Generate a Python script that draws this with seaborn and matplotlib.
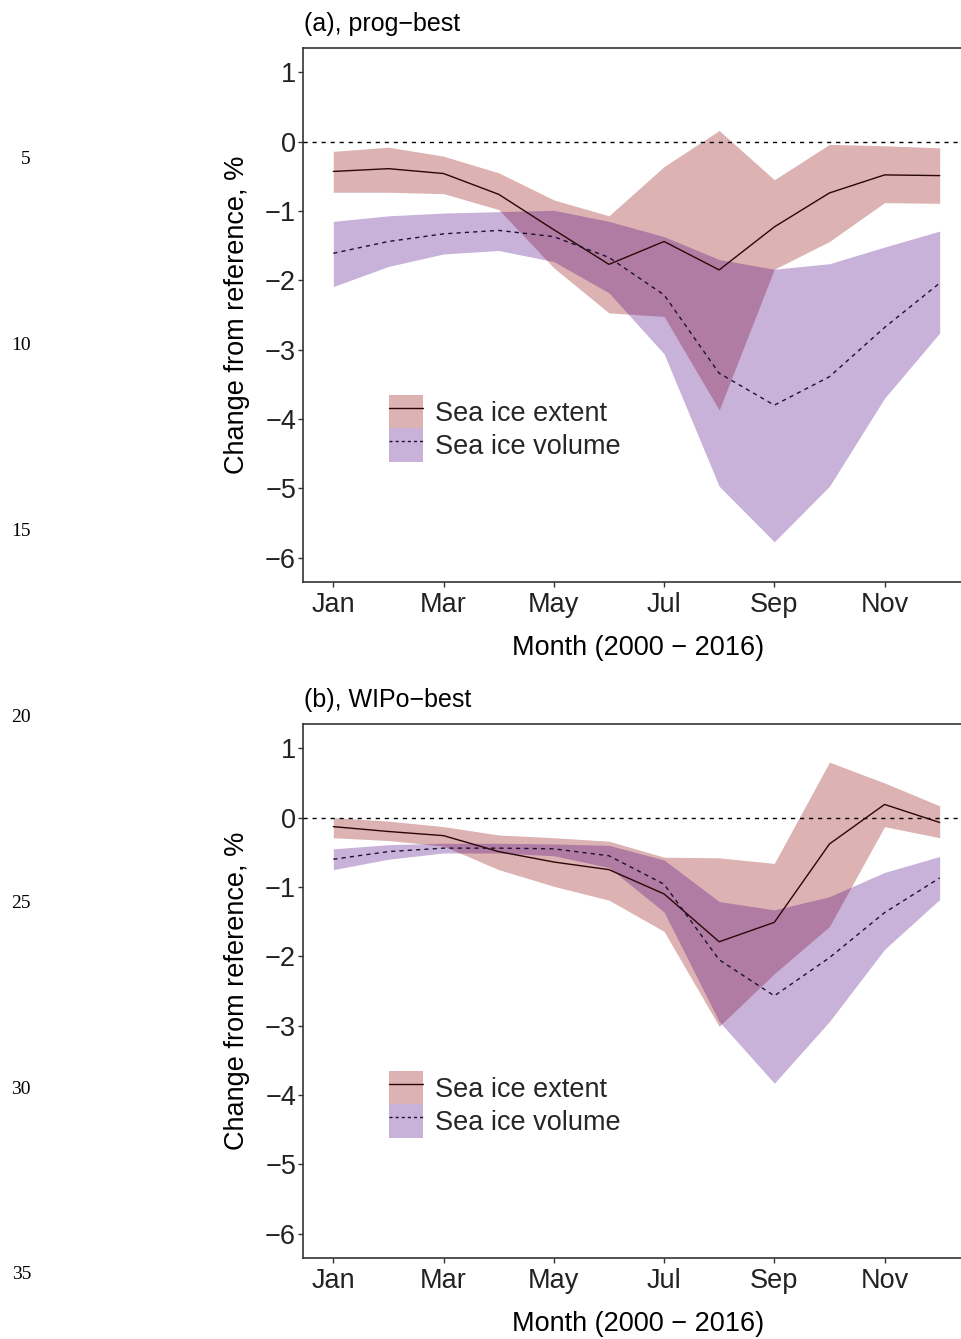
import numpy as np
import pandas as pd
import matplotlib
matplotlib.use("Agg")
import matplotlib.pyplot as plt
import seaborn as sns
from matplotlib.patches import Patch
from matplotlib.lines import Line2D

# ---- data -----------------------------------------------------------------
months = np.arange(1, 13)
tick_months = [1, 3, 5, 7, 9, 11]
tick_labels = ["Jan", "Mar", "May", "Jul", "Sep", "Nov"]
y_ticks = [1, 0, -1, -2, -3, -4, -5, -6]
line_numbers = [5, 10, 15, 20, 25, 30, 35]

# (a) prog-best
ext_mean_a = [-0.43, -0.39, -0.46, -0.76, -1.27, -1.77, -1.44, -1.85, -1.23, -0.74, -0.48, -0.49]
ext_hi_a = [-0.14, -0.08, -0.21, -0.45, -0.84, -1.07, -0.36, 0.16, -0.55, -0.04, -0.06, -0.09]
ext_lo_a = [-0.73, -0.73, -0.75, -0.98, -1.82, -2.47, -2.52, -3.87, -1.84, -1.44, -0.88, -0.89]
vol_mean_a = [-1.61, -1.44, -1.33, -1.28, -1.37, -1.67, -2.21, -3.34, -3.80, -3.39, -2.68, -2.04]
vol_hi_a = [-1.15, -1.07, -1.03, -1.01, -0.99, -1.15, -1.37, -1.70, -1.84, -1.76, -1.52, -1.29]
vol_lo_a = [-2.09, -1.80, -1.62, -1.57, -1.73, -2.18, -3.06, -4.97, -5.77, -4.97, -3.70, -2.76]

# (b) WIPo-best
ext_mean_b = [-0.13, -0.20, -0.26, -0.49, -0.64, -0.75, -1.10, -1.79, -1.51, -0.38, 0.19, -0.07]
ext_hi_b = [0.00, -0.05, -0.13, -0.25, -0.29, -0.34, -0.57, -0.58, -0.66, 0.80, 0.50, 0.17]
ext_lo_b = [-0.29, -0.33, -0.41, -0.75, -0.99, -1.19, -1.64, -3.01, -2.25, -1.57, -0.13, -0.29]
vol_mean_b = [-0.60, -0.49, -0.44, -0.44, -0.45, -0.55, -0.96, -2.05, -2.57, -2.02, -1.37, -0.87]
vol_hi_b = [-0.45, -0.39, -0.37, -0.37, -0.38, -0.40, -0.61, -1.21, -1.33, -1.14, -0.79, -0.56]
vol_lo_b = [-0.75, -0.60, -0.51, -0.51, -0.55, -0.72, -1.36, -2.94, -3.83, -2.94, -1.90, -1.18]

panels = [
    ("(a), prog\u2212best", ext_mean_a, ext_lo_a, ext_hi_a, vol_mean_a, vol_lo_a, vol_hi_a),
    ("(b), WIPo\u2212best", ext_mean_b, ext_lo_b, ext_hi_b, vol_mean_b, vol_lo_b, vol_hi_b),
]

# ---- style ----------------------------------------------------------------
sns.set_theme(style="ticks")
plt.rcParams["font.family"] = ["Liberation Sans", "DejaVu Sans"]

EXT_FILL = "#8B0000"
VOL_FILL = "#4B0082"
FILL_ALPHA = 0.3
EXT_LINE = "#2a0707"
VOL_LINE = "#1c1030"
AXIS_COL = "#333333"
FS = 19.5

W, H = 962, 1339
fig = plt.figure(figsize=(W / 100, H / 100), dpi=100)


def px_axes(left, top, right, bottom):
    return fig.add_axes([left / W, 1 - bottom / H, (right - left) / W, (bottom - top) / H])


axes_boxes = [(303, 48, 970, 582), (303, 724, 970, 1258)]

for box, (title, e_m, e_lo, e_hi, v_m, v_lo, v_hi) in zip(axes_boxes, panels):
    ax = px_axes(*box)
    df = pd.DataFrame({"month": months, "extent": e_m, "volume": v_m})

    ax.fill_between(months, e_lo, e_hi, color=EXT_FILL, alpha=FILL_ALPHA, lw=0)
    ax.fill_between(months, v_lo, v_hi, color=VOL_FILL, alpha=FILL_ALPHA, lw=0)
    ax.axhline(0, color="black", lw=1.0, dashes=(3, 3.5), zorder=3)

    sns.lineplot(data=df, x="month", y="extent", ax=ax, color=EXT_LINE, lw=1.0, zorder=4)
    sns.lineplot(data=df, x="month", y="volume", ax=ax, color=VOL_LINE, lw=1.0,
                 dashes=(3, 3), zorder=4)

    ax.set_xlim(0.45, 12.55)
    ax.set_ylim(-6.35, 1.35)
    ax.set_xticks(tick_months)
    ax.set_xticklabels(tick_labels)
    ax.set_yticks(y_ticks)
    ax.set_yticklabels([str(v).replace("-", "\u2212") for v in y_ticks])

    for side in ["left", "bottom", "top"]:
        ax.spines[side].set_visible(True)
        ax.spines[side].set_color(AXIS_COL)
        ax.spines[side].set_linewidth(1.2)
    ax.spines["right"].set_visible(False)

    ax.tick_params(axis="both", direction="out", length=3.5, width=1.0,
                   color=AXIS_COL, labelsize=FS, labelcolor="#222222")
    ax.tick_params(axis="x", pad=3.5)
    ax.tick_params(axis="y", pad=1.5)

    ax.set_xlabel("Month (2000 \u2212 2016)", fontsize=FS, color="black")
    ax.xaxis.set_label_coords(0.502, -0.1236)
    ax.xaxis.label.set_va("center")
    ax.set_ylabel("Change from reference, %", fontsize=FS, color="black")
    ax.yaxis.set_label_coords(-0.099, 0.5)
    ax.yaxis.label.set_va("center")

    ax.text(0.002, 1.045, title, transform=ax.transAxes, ha="left", va="center",
            fontsize=18, color="black")

    handles = [
        (Patch(facecolor=EXT_FILL, alpha=FILL_ALPHA, edgecolor="none"),
         Line2D([], [], color=EXT_LINE, lw=1.0)),
        (Patch(facecolor=VOL_FILL, alpha=FILL_ALPHA, edgecolor="none"),
         Line2D([], [], color=VOL_LINE, lw=1.0, dashes=(2.2, 2.2))),
    ]
    ax.legend(handles, ["Sea ice extent", "Sea ice volume"], loc="upper left",
              bbox_to_anchor=(0.129, 0.350), frameon=False, fontsize=FS,
              handlelength=1.25, handleheight=1.52, labelspacing=0.0,
              handletextpad=0.45, borderaxespad=0.0, borderpad=0.0)

# manuscript line numbers down the left margin
for i, n in enumerate(line_numbers):
    y_px = 160 + i * 185.8
    fig.text(31 / W, 1 - y_px / H, str(n), ha="right", va="center",
             family=["Liberation Serif", "DejaVu Serif"], fontsize=14, color="black")

fig.savefig("out.png", dpi=100)
